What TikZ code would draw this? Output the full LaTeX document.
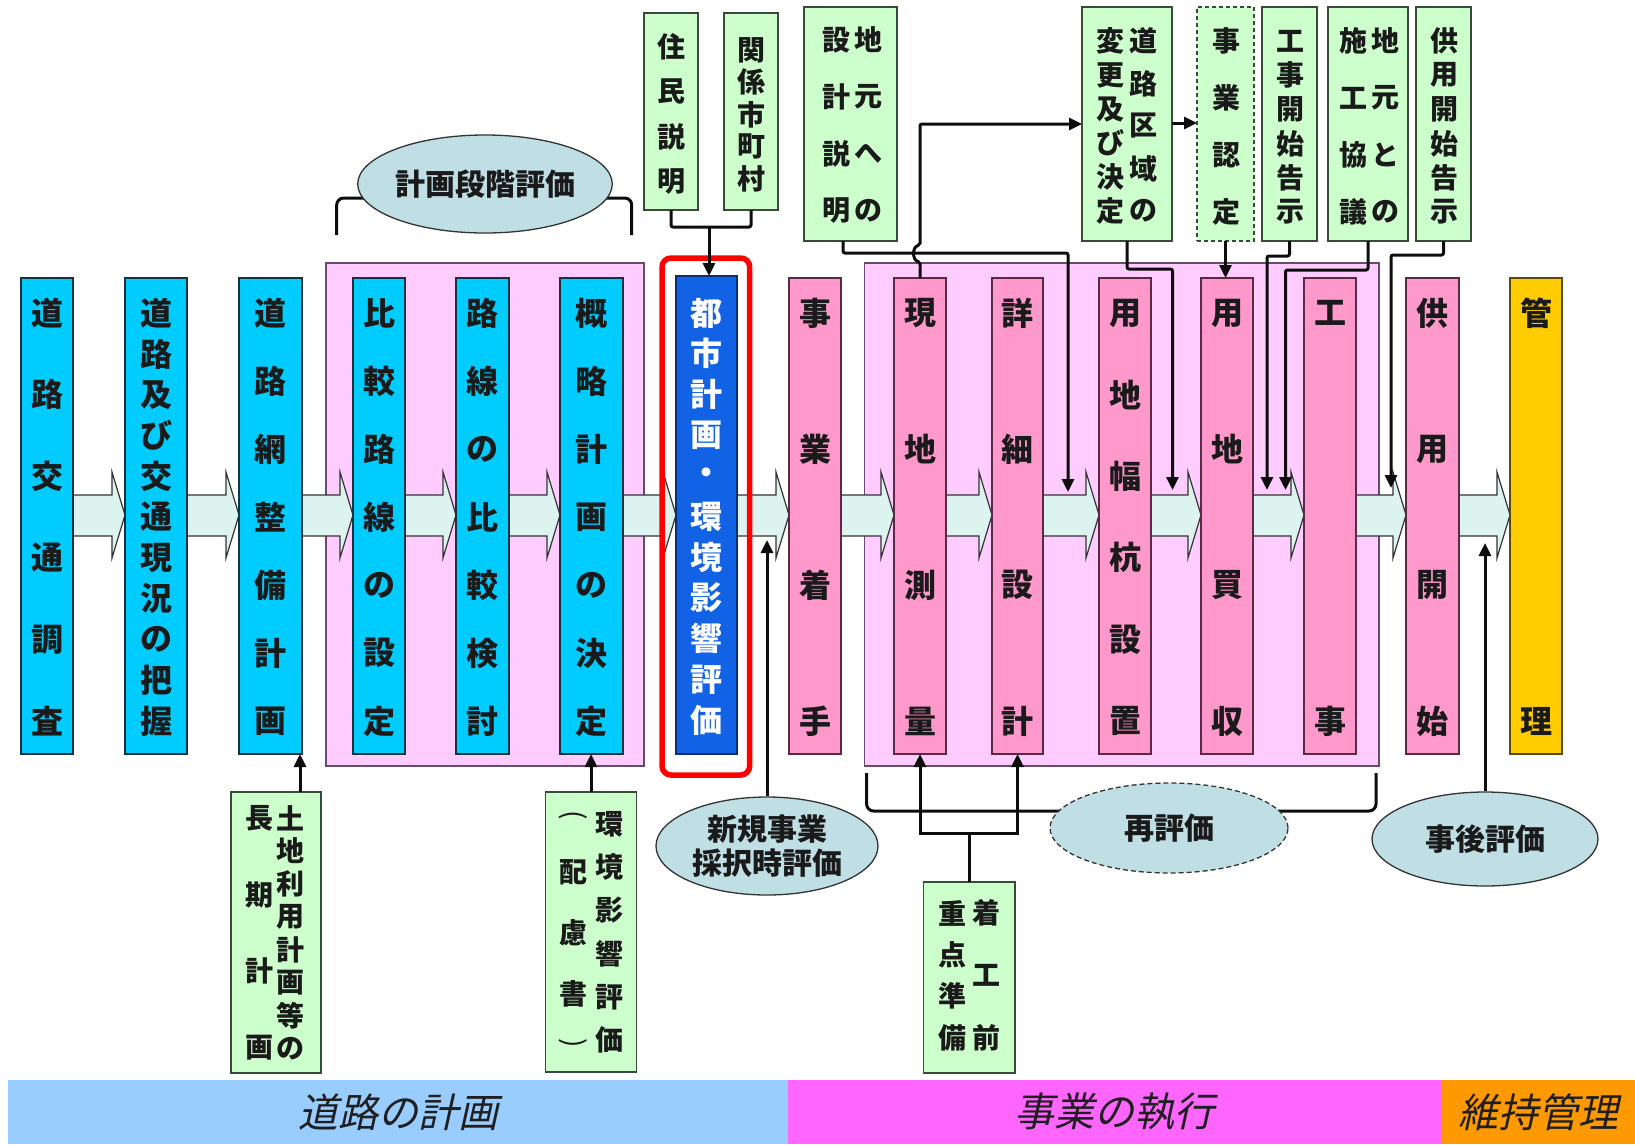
\documentclass[tikz,border=0pt]{standalone}
\usepackage{fontspec}
\newfontfamily\jp{Noto Sans CJK JP}
\newfontfamily\jpit{Noto Sans CJK JP}[FakeSlant=0.22]
\usetikzlibrary{shapes.geometric,arrows.meta,calc}
\pgfdeclarelayer{l0}\pgfdeclarelayer{l1}\pgfsetlayers{l0,l1,main}
\definecolor{txt}{HTML}{1A1A1A}
\definecolor{cyanbox}{HTML}{00CCFF}
\definecolor{cbd}{HTML}{17323F}
\definecolor{pinkbox}{HTML}{FF99CC}
\definecolor{pbd}{HTML}{5A2A45}
\definecolor{bluebox}{HTML}{1262E6}
\definecolor{bbd}{HTML}{0B2F6B}
\definecolor{orangebox}{HTML}{FFCC00}
\definecolor{obd}{HTML}{5A4A10}
\definecolor{grpfill}{HTML}{FFCCFF}
\definecolor{grpd}{HTML}{6A4A6A}
\definecolor{greenb}{HTML}{CCFFCC}
\definecolor{gbd}{HTML}{3A4A3A}
\definecolor{ellc}{HTML}{BFDFE5}
\definecolor{arrf}{HTML}{DDF3EF}
\definecolor{barA}{HTML}{99CCFF}
\definecolor{barB}{HTML}{FF66FF}
\definecolor{barC}{HTML}{FF9900}
\tikzset{
  cb/.style={draw=cbd, fill=cyanbox, line width=1.8pt, inner sep=0, outer sep=0},
  pb/.style={draw=pbd, fill=pinkbox, line width=1.8pt, inner sep=0, outer sep=0},
  blb/.style={draw=bbd, fill=bluebox, line width=1.8pt, inner sep=0, outer sep=0},
  ob/.style={draw=obd, fill=orangebox, line width=1.8pt, inner sep=0, outer sep=0},
  grp/.style={draw=grpd, fill=grpfill, line width=1.6pt, inner sep=0, outer sep=0},
  gb/.style={draw=gbd, fill=greenb, line width=1.6pt, inner sep=0, outer sep=0},
  gbdash/.style={gb, dash pattern=on 4pt off 3pt},
  mch/.style={inner sep=0, text=txt, font=\jp\bfseries\fontsize{32}{32}\selectfont},
  wch/.style={mch, text=white},
  gch/.style={inner sep=0, text=txt, font=\jp\bfseries\fontsize{28}{28}\selectfont},
  ell/.style={ellipse, draw=black!80, line width=1.3pt, fill=ellc, inner sep=0, text=txt,
    align=center, font=\jp\bfseries\fontsize{30}{34.5}\selectfont},
  barr/.style={draw=black!80, fill=arrf, line width=1.2pt},
  conn/.style={draw=black!95, line width=3pt, rounded corners=2pt, -{Triangle[length=13pt,width=12pt]}},
  conn2/.style={draw=black!95, line width=3pt, {Triangle[length=13pt,width=12pt]}-{Triangle[length=13pt,width=12pt]}},
  ln/.style={draw=black!95, line width=3pt, rounded corners=2pt},
  brk/.style={draw=black!95, line width=3pt, rounded corners=7pt},
  bartext/.style={inner sep=0, text=black!88, font=\jpit\fontsize{40}{40}\selectfont}
}
\newcommand\bx[6]{\node[#2, minimum width={#4-#3}, minimum height={#6-#5}] (#1) at ({(#3+#4)/2},{(#5+#6)/2}) {};}
\newcommand\vcol[6]{\foreach \ch [count=\i from 0] in {#6} {\node[#5] (#1-\i) at ({#2},{#3+\i*#4}) {\ch};}}
\newcommand\barrow[2]{%
  \draw[barr] (#1.east |- 0,495) -- ($(#2.west |- 0,495)+(-13,0)$) -- ($(#2.west |- 0,472)+(-13,0)$)
    -- (#2.west |- 0,515) -- ($(#2.west |- 0,558)+(-13,0)$) -- ($(#2.west |- 0,536)+(-13,0)$)
    -- (#1.east |- 0,536) -- cycle;}
\begin{document}
\begin{tikzpicture}[x=1pt,y=-1pt]
\useasboundingbox (0,0) rectangle (1635,1144);
\begin{pgfonlayer}{l0}
\fill[white] (0,0) rectangle (1635,1144);
\node[fill=barA, minimum width=780, minimum height=64, inner sep=0] (barA) at (398,1112) {};
\node[fill=barB, minimum width=653, minimum height=64, inner sep=0] (barB) at (1114.5,1112) {};
\node[fill=barC, minimum width=194, minimum height=64, inner sep=0] (barC) at (1538,1112) {};
\node[bartext] (barAt) at (barA) {道路の計画};
\node[bartext] (barBt) at (barB) {事業の執行};
\node[bartext] (barCt) at (barC) {維持管理};
\bx{g1}{grp}{325.7}{644}{262.7}{766}
\bx{g2}{grp}{864.5}{1379}{262.7}{766}
\end{pgfonlayer}

% main row boxes
\bx{b1}{cb}{21}{73}{278}{754}
\bx{b2}{cb}{125}{187}{278}{754}
\bx{b3}{cb}{239}{302}{278}{754}
\bx{b4}{cb}{353}{405}{278}{754}
\bx{b5}{cb}{456}{509}{278}{754}
\bx{b6}{cb}{560}{623}{278}{754}
\bx{b7}{blb}{676}{737}{276}{754}
\bx{b8}{pb}{789}{841}{278}{754}
\bx{b9}{pb}{894}{946}{278}{754}
\bx{b10}{pb}{992}{1043}{278}{754}
\bx{b11}{pb}{1099}{1151}{278}{754}
\bx{b12}{pb}{1201}{1253}{278}{754}
\bx{b13}{pb}{1304}{1356}{278}{754}
\bx{b14}{pb}{1406}{1459}{278}{754}
\bx{b15}{ob}{1510}{1562}{278}{754}

\begin{pgfonlayer}{l1}
\barrow{b1}{b2}\barrow{b2}{b3}\barrow{b3}{b4}\barrow{b4}{b5}\barrow{b5}{b6}
\barrow{b6}{b7}\barrow{b7}{b8}\barrow{b8}{b9}\barrow{b9}{b10}\barrow{b10}{b11}
\barrow{b11}{b12}\barrow{b12}{b13}\barrow{b13}{b14}\barrow{b14}{b15}
\end{pgfonlayer}

\vcol{t1}{47}{313}{81.6}{mch}{道,路,交,通,調,査}
\vcol{t2}{156}{313}{40.8}{mch}{道,路,及,び,交,通,現,況,の,把,握}
\vcol{t3}{270.5}{313}{68}{mch}{道,路,網,整,備,計,画}
\vcol{t4}{379}{313}{68}{mch}{比,較,路,線,の,設,定}
\vcol{t5}{482.5}{313}{68}{mch}{路,線,の,比,較,検,討}
\vcol{t6}{591.5}{313}{68}{mch}{概,略,計,画,の,決,定}
\vcol{t7}{706.5}{313}{40.7}{wch}{都,市,計,画,・,環,境,影,響,評,価}
\vcol{t8}{815}{313}{136}{mch}{事,業,着,手}
\vcol{t9}{920}{313}{136}{mch}{現,地,測,量}
\vcol{t10}{1017.5}{313}{136}{mch}{詳,細,設,計}
\vcol{t11}{1125}{313}{81.6}{mch}{用,地,幅,杭,設,置}
\vcol{t12}{1227}{313}{136}{mch}{用,地,買,収}
\vcol{t13}{1330}{313}{408}{mch}{工,事}
\vcol{t14}{1432.5}{313}{136}{mch}{供,用,開,始}
\vcol{t15}{1536}{313}{408}{mch}{管,理}

% red frame
\node[draw=red, line width=5.5pt, rounded corners=9pt, minimum width=87.7, minimum height=517, inner sep=0] (redr) at (705.85,516.5) {};

% brackets and evaluation ellipses
\draw[brk] (336.7,235) -- (336.7,198) -- (631.7,198) -- (631.7,235);
\draw[brk] (866.6,773) -- (866.6,811) -- (1376,811) -- (1376,773);
\node[ell, minimum width=224, minimum height=98] (e1) at (485,184) {計画段階評価};
\node[ell, minimum width=222, minimum height=98] (e2) at (767,846) {新規事業\\採択時評価};
\node[ell, dash pattern=on 5pt off 3pt, minimum width=238, minimum height=90] (e3) at (1169,828) {再評価};
\node[ell, minimum width=226, minimum height=94] (e4) at (1485,839) {事後評価};

% green boxes
\bx{jumin}{gb}{644}{698}{13}{210}
\bx{kankei}{gb}{724}{778}{13}{210}
\bx{jim1}{gb}{804}{897}{7}{241}
\bx{kuiki}{gb}{1082}{1172}{7}{241}
\bx{nintei}{gbdash}{1197}{1254}{7}{241}
\bx{kouji}{gb}{1262}{1317}{7}{241}
\bx{jim2}{gb}{1328}{1408}{7}{241}
\bx{kyo}{gb}{1416}{1471}{7}{241}
\bx{tochi}{gb}{231}{321}{792}{1073}
\bx{kanky}{gb}{545.5}{636.5}{792}{1072}
\bx{juten}{gb}{923.5}{1015}{882}{1073}

\vcol{u1}{671}{47}{44.7}{gch}{住,民,説,明}
\vcol{u2}{751}{50}{32.3}{gch}{関,係,市,町,村}
\vcol{u3r}{868}{40}{57}{gch}{地,元,へ,の}
\vcol{u3l}{836}{40}{57}{gch}{設,計,説,明}
\vcol{u4r}{1143.5}{41}{42.5}{gch}{道,路,区,域,の}
\vcol{u4l}{1110.5}{41}{34}{gch}{変,更,及,び,決,定}
\vcol{u5}{1226}{41}{57}{gch}{事,業,認,定}
\vcol{u6}{1290}{41}{34.2}{gch}{工,事,開,始,告,示}
\vcol{u7r}{1385.7}{41}{57}{gch}{地,元,と,の}
\vcol{u7l}{1353.8}{41}{57}{gch}{施,工,協,議}
\vcol{u8}{1444}{41}{34.2}{gch}{供,用,開,始,告,示}
\vcol{v1r}{290}{818}{32.9}{gch}{土,地,利,用,計,画,等,の}
\vcol{v1l}{259}{818}{76.7}{gch}{長,期,計,画}
\vcol{v2r}{609}{824}{43.2}{gch}{環,境,影,響,評,価}
\node[gch, font=\jp\fontsize{28}{28}\selectfont, rotate=-90] (v2lo) at (573,815) {(};
\vcol{v2l}{573}{872}{61}{gch}{配,慮,書}
\node[gch, font=\jp\fontsize{28}{28}\selectfont, rotate=-90] (v2lc) at (573,1043) {)};
\vcol{v3r}{986}{913}{62.2}{gch}{着,工,前}
\vcol{v3l}{952}{913}{41.5}{gch}{重,点,準,備}

% connectors (top)
\coordinate (k1) at (1068,492);
\coordinate (k3) at (1172.5,490);
\coordinate (k6) at (1267,490);
\coordinate (k7) at (1285.5,490);
\coordinate (k8) at (1391,488);
\draw[ln] (jumin.south) -- (671,227) -- (751,227) -- (kankei.south);
\draw[conn] (709,227) -- (b7.north -| 709,0);
\draw[conn] (jim1.south -| 843,0) -- (843,253) -- (1068,253) -- (k1);
\draw[conn] (b9.north) -- (920,262) .. controls (912,260) and (912,247) .. (920,245) -- (920,124) -- (kuiki.west |- 0,124);
\draw[conn] (kuiki.south) -- (1127,269) -- (1172.5,269) -- (k3);
\draw[conn] (kuiki.east |- 0,123) -- (nintei.west |- 0,123);
\draw[conn] (nintei.south) -- (nintei.south |- b12.north);
\draw[conn] (kouji.south) -- (1289.5,256) -- (1267,256) -- (k6);
\draw[conn] (jim2.south) -- (1368,270) -- (1285.5,270) -- (k7);
\draw[conn] (kyo.south) -- (1443.5,255) -- (1391,255) -- (k8);

% connectors (bottom)
\coordinate (k9) at (767,540);
\coordinate (k10) at (1485,543);
\draw[conn] (tochi.north -| 300,0) -- (b3.south -| 300,0);
\draw[conn] (kanky.north) -- (kanky.north |- b6.south);
\draw[conn] (e2.north) -- (k9);
\draw[conn] (e4.north) -- (k10);
\draw[ln] (juten.north) -- (juten.north |- 0,833);
\draw[conn2] (b9.south) -- (b9.south |- 0,833) -- (b10.south |- 0,833) -- (b10.south);
\end{tikzpicture}
\end{document}
